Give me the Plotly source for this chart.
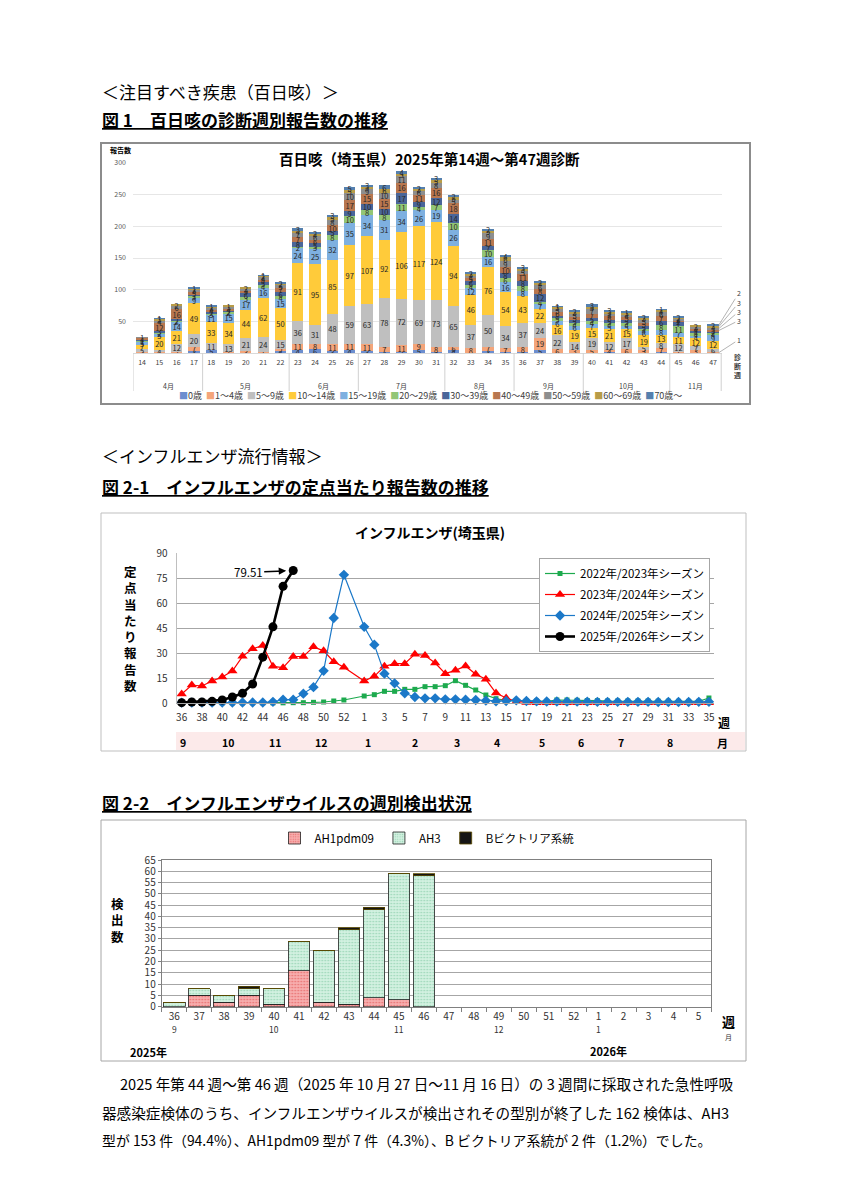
import plotly.graph_objects as go

# page is 848x1200; the browser body adds an 8px margin, so the figure is 840x1192
PAGE_OFF = 8
W, H = 840, 1192
FONT = "Noto Sans CJK JP"


def px(x):
    return (x - PAGE_OFF) / W


def py(y):
    return 1 - (y - PAGE_OFF) / H


# ---------------- Figure 1 data (百日咳) ----------------
weeks1 = [str(w) for w in range(14, 48)]
month_labels1 = ["4月", "5月", "6月", "7月", "8月", "9月", "10月", "11月"]
month_counts1 = [4, 5, 4, 5, 4, 4, 5, 3]
age_groups = ["0歳", "1～4歳", "5～9歳", "10～14歳", "15～19歳", "20～29歳",
              "30～39歳", "40～49歳", "50～59歳", "60～69歳", "70歳～"]
age_0 = [0, 0, 0, 3, 5, 0, 0, 0, 4, 4, 6, 3, 4, 3, 2, 2, 5, 2, 4, 0, 3, 1, 2, 5, 0, 1, 0, 1, 0, 1, 1, 1, 1, 0]
age_1_4 = [1, 1, 2, 7, 0, 1, 3, 1, 2, 11, 8, 11, 11, 11, 7, 11, 9, 8, 6, 8, 7, 7, 8, 19, 6, 3, 5, 4, 6, 3, 7, 1, 3, 1]
age_5_9 = [5, 4, 12, 20, 11, 13, 21, 24, 15, 36, 31, 48, 59, 63, 78, 72, 69, 73, 65, 37, 50, 34, 37, 24, 22, 14, 19, 12, 17, 5, 8, 12, 7, 6]
age_10_14 = [7, 20, 21, 49, 33, 34, 44, 62, 50, 91, 95, 85, 97, 107, 92, 106, 117, 124, 94, 46, 76, 54, 43, 22, 16, 19, 15, 21, 15, 19, 13, 11, 12, 12]
age_15_19 = [5, 5, 14, 9, 11, 15, 17, 16, 15, 24, 25, 32, 35, 34, 31, 34, 26, 19, 26, 12, 16, 16, 8, 7, 6, 6, 7, 5, 5, 6, 8, 7, 4, 9]
age_20_29 = [1, 2, 2, 3, 3, 2, 3, 4, 4, 2, 3, 8, 10, 8, 8, 11, 4, 7, 10, 4, 10, 6, 8, 4, 5, 4, 4, 4, 4, 4, 8, 11, 4, 4]
age_30_39 = [1, 3, 2, 1, 2, 2, 6, 5, 6, 8, 5, 5, 9, 10, 10, 17, 9, 12, 14, 6, 7, 8, 8, 12, 4, 5, 5, 5, 5, 5, 6, 7, 4, 2]
age_40_49 = [4, 12, 16, 5, 4, 4, 5, 4, 7, 7, 6, 10, 17, 15, 15, 16, 11, 16, 18, 5, 11, 10, 11, 8, 6, 5, 7, 6, 5, 5, 7, 2, 4, 3]
age_50_59 = [1, 4, 6, 3, 3, 3, 3, 4, 5, 7, 6, 8, 10, 9, 10, 11, 6, 8, 5, 4, 9, 9, 5, 6, 5, 5, 7, 4, 4, 5, 6, 2, 3, 3]
age_60_69 = [0, 3, 2, 2, 2, 1, 2, 2, 2, 4, 4, 5, 5, 3, 6, 3, 3, 5, 5, 3, 5, 6, 3, 4, 3, 3, 5, 3, 3, 3, 4, 2, 2, 3]
age_70 = [0, 1, 0, 1, 1, 0, 0, 1, 2, 3, 2, 3, 5, 3, 6, 4, 2, 3, 2, 2, 2, 4, 3, 2, 1, 2, 3, 3, 1, 2, 1, 2, 0, 2]
age_series = [age_0, age_1_4, age_5_9, age_10_14, age_15_19, age_20_29,
              age_30_39, age_40_49, age_50_59, age_60_69, age_70]
age_colors = ["#6C8ECF", "#F4A57A", "#BFBFBF", "#FFCB3A", "#7EB0E0", "#92C676",
              "#4A6699", "#B8774F", "#8E8E8E", "#B89C48", "#5580AE"]

# ---------------- Figure 2-1 data (定点当たり) ----------------
weeks21 = [str(w) for w in range(36, 54)] + [str(w) for w in range(1, 36)]
s2022 = [0.1] * 11 + [0.2, 0.2, 0.4, 0.6, 1.2, 1.8, None] + \
    [4.2, 5.0, 7.0, 7.0, 8.2, 8.2, 9.8, 9.8, 10.4, 13.4, 10.6, 7.8, 4.8, 2.6, 1.4, 1.4, 1.4, 1.2,
     1.0, 1.8, 1.8, 1.6, 1.5, 1.4, 1.2, 1.2, 1.2, 1.2, 1.2, 1.1, 1.1, 1.0, 1.0, 1.0, 3.0]
s2023 = [5.4, 10.8, 10.2, 13.2, 15.6, 19.2, 28.0, 32.5, 34.5, 22.0, 21.2, 27.9, 27.9, 33.7, 31.3, 24.8, 21.4, None] + \
    [13.2, 16.0, 22.0, 23.6, 23.6, 29.3, 28.5, 24.0, 17.6, 19.6, 22.2, 17.2, 14.2, 6.0, 3.0, 0.8,
     0.3, 0.2] + [0.1] * 17
s2024 = [0.2, 0.2, 0.2, 0.2, 0.3, 0.3, 0.3, 0.3, 0.3, 0.7, 2.0, 2.0, 5.6, 9.5, 19.3, 51.0, 76.9, None] + \
    [45.7, 35.0, 17.6, 11.8, 5.8, 3.6, 2.8, 2.8, 2.2, 2.2, 2.0, 1.8, 1.4, 1.0, 1.2, 1.6, 1.2, 1.0,
     0.9, 0.9, 0.8, 0.8, 0.8, 0.7, 0.7, 0.7, 0.7, 0.7, 0.7, 0.6, 0.6, 0.6, 0.6, 0.7, 0.7]
s2025 = [0.2, 0.6, 0.6, 1.0, 1.8, 3.6, 5.8, 11.4, 27.5, 45.7, 70.0, 79.51] + [None] * 41
season_names = ["2022年/2023年シーズン", "2023年/2024年シーズン",
                "2024年/2025年シーズン", "2025年/2026年シーズン"]
month_labels21 = ["9", "10", "11", "12", "1", "2", "3", "4", "5", "6", "7", "8"]
month_pos21 = [0.1, 4.6, 9.2, 13.7, 18.4, 23.0, 27.2, 31.1, 35.5, 39.4, 43.3, 48.2]

# ---------------- Figure 2-2 data (ウイルス検出) ----------------
weeks22 = [str(w) for w in range(36, 53)] + [str(w) for w in range(1, 6)]
ah1pdm09 = [0, 5, 2, 5, 1, 16, 2, 1, 4, 3, 0]
ah3 = [2, 3, 3, 3, 7, 13, 23, 33, 39, 56, 58]
bvic = [0, 0, 0, 1, 0, 0, 0, 1, 1, 0, 1]
month_labels22 = ["9", "10", "11", "12", "1"]
month_week22 = ["36", "40", "45", "49", "1"]

fig = go.Figure()

# ---- Figure 1 bars ----
for name, vals, col in zip(age_groups, age_series, age_colors):
    fig.add_trace(go.Bar(
        x=weeks1, y=vals, name=name, xaxis="x", yaxis="y",
        marker=dict(color=col, line=dict(width=0)),
        text=[str(v) if v else "" for v in vals], textposition="inside",
        textangle=0, insidetextanchor="middle", constraintext="none",
        textfont=dict(size=7.5, color="#262626", family=FONT),
        width=0.65, showlegend=False, hoverinfo="skip"))

# ---- Figure 2-1 lines ----
line_styles = [
    dict(color="#1DAA4E", width=1.2, sym="square", size=5),
    dict(color="#FF0000", width=1.2, sym="triangle-up", size=9),
    dict(color="#1B78C8", width=1.2, sym="diamond", size=8),
    dict(color="#000000", width=2.6, sym="circle", size=9),
]
for i, (name, vals, st) in enumerate(zip(season_names, [s2022, s2023, s2024, s2025], line_styles)):
    fig.add_trace(go.Scatter(
        x=weeks21, y=vals, name=name, xaxis="x2", yaxis="y2", mode="lines+markers",
        line=dict(color=st["color"], width=st["width"]),
        marker=dict(symbol=st["sym"], size=st["size"], color=st["color"]),
        connectgaps=True, cliponaxis=False, legend="legend2",
        legendgroup="g%d" % i, hoverinfo="skip"))

# ---- Figure 2-2 bars ----
fig.add_trace(go.Bar(
    x=weeks22[:len(ah1pdm09)], y=ah1pdm09, name="AH1pdm09", xaxis="x3", yaxis="y3",
    marker=dict(color="#F6A3A3", line=dict(color="#222222", width=0.8),
                pattern=dict(shape=".", fgcolor="#E87070", bgcolor="#F7AEAE", size=3, solidity=0.25)),
    width=0.87, legend="legend3", hoverinfo="skip"))
fig.add_trace(go.Bar(
    x=weeks22[:len(ah3)], y=ah3, name="AH3", xaxis="x3", yaxis="y3",
    marker=dict(color="#CDEFDD", line=dict(color="#222222", width=0.8),
                pattern=dict(shape=".", fgcolor="#9AD6B6", bgcolor="#D3F1E1", size=3, solidity=0.25)),
    width=0.87, legend="legend3", hoverinfo="skip"))
fig.add_trace(go.Bar(
    x=weeks22[:len(bvic)], y=bvic, name="Bビクトリア系統", xaxis="x3", yaxis="y3",
    marker=dict(color="#151515", line=dict(color="#5A4A00", width=0.8)),
    width=0.87, legend="legend3", hoverinfo="skip"))

ann = []
shp = []


def text(x, y, s, size, bold=False, xanchor="left", color="#000000", **kw):
    d = dict(x=px(x), y=py(y), xref="paper", yref="paper", text=("<b>%s</b>" % s) if bold else s,
             showarrow=False, xanchor=xanchor, yanchor="middle",
             font=dict(size=size, color=color, family=FONT))
    d.update(kw)
    ann.append(d)


# ---- page texts ----
text(100, 92, "＜注目すべき疾患（百日咳）＞", 17)
text(100, 120, "<u>図 1　百日咳の診断週別報告数の推移</u>", 17, bold=True)
text(100, 455, "＜インフルエンザ流行情報＞", 17)
text(100, 487, "<u>図 2-1　インフルエンザの定点当たり報告数の推移</u>", 17, bold=True)
text(100, 802, "<u>図 2-2　インフルエンザウイルスの週別検出状況</u>", 17, bold=True)
text(118, 1083, "2025 年第 44 週～第 46 週（2025 年 10 月 27 日～11 月 16 日）の 3 週間に採取された急性呼吸", 14.6)
text(100, 1112, "器感染症検体のうち、インフルエンザウイルスが検出されその型別が終了した 162 検体は、AH3", 14.6)
text(100, 1140, "型が 153 件（94.4%）、AH1pdm09 型が 7 件（4.3%）、B ビクトリア系統が 2 件（1.2%）でした。", 13.9)

# ---- Figure 1 decorations ----
shp.append(dict(type="rect", xref="paper", yref="paper", x0=px(101), x1=px(750), y0=py(143), y1=py(404),
                line=dict(color="#8C8C8C", width=2)))
text(429, 158, "百日咳（埼玉県）2025年第14週～第47週診断", 14.5, bold=True, xanchor="center")
text(108, 150, "報告数", 7, bold=True)
start = 0
for lab, cnt in zip(month_labels1, month_counts1):
    shp.append(dict(type="line", xref="x", yref="paper", x0=start - 0.5, x1=start - 0.5,
                    y0=py(353), y1=py(391), line=dict(color="#D0D0D0", width=1)))
    ann.append(dict(x=start + (cnt - 1) / 2, y=py(379), xref="x", yref="paper", text=lab,
                    showarrow=False, font=dict(size=7, color="#404040", family=FONT)))
    start += cnt
shp.append(dict(type="line", xref="x", yref="paper", x0=start - 0.5, x1=start - 0.5,
                y0=py(353), y1=py(391), line=dict(color="#D0D0D0", width=2)))
text(737, 366, "<br>".join("診断週"), 7, bold=True, xanchor="center", color="#404040")

# callouts for the last week's small segments
last = len(weeks1) - 1
cum = 0
mids = []
for vals in age_series:
    v = vals[last]
    mids.append((cum + v / 2, v))
    cum += v
callouts = [(1, 20, -13), (7, 20, -10), (8, 20, -17), (9, 20, -24), (10, 20, -32)]
for k, axo, ayo in callouts:
    ymid, v = mids[k]
    ann.append(dict(x=last + 0.33, y=ymid, xref="x", yref="y", text=str(v), showarrow=True,
                    arrowhead=0, arrowwidth=0.8, arrowcolor="#A0A0A0", ax=axo, ay=ayo,
                    font=dict(size=7, color="#404040", family=FONT)))

# Figure 1 legend drawn as a text row
leg_items = []
for name, col in zip(age_groups, age_colors):
    leg_items.append('<span style="color:%s">■</span>%s' % (col, name))
text(430, 395, "\u00a0\u00a0".join(leg_items), 9, xanchor="center", color="#404040")

# ---- Figure 2-1 decorations ----
shp.append(dict(type="rect", xref="paper", yref="paper", x0=px(101), x1=px(746), y0=py(513), y1=py(751),
                line=dict(color="#BFBFBF", width=1)))
shp.append(dict(type="rect", xref="paper", yref="paper", x0=px(176), x1=px(745), y0=py(732), y1=py(750),
                fillcolor="#FCEAEA", line=dict(width=0), layer="below"))
text(430, 532, "インフルエンザ(埼玉県)", 14, bold=True, xanchor="center")
text(130, 628, "<br>".join("定点当たり報告数"), 12.5, bold=True, xanchor="center")
for lab, pos in zip(month_labels21, month_pos21):
    ann.append(dict(x=pos, y=py(742), xref="x2", yref="paper", text="<b>%s</b>" % lab,
                    showarrow=False, font=dict(size=10.5, color="#000", family=FONT)))
text(724, 722, "週", 12, bold=True, xanchor="center")
text(722, 743, "月", 11, bold=True, xanchor="center")
ann.append(dict(x=11, y=s2025[11], xref="x2", yref="y2", text="%.2f" % s2025[11], showarrow=True,
                arrowhead=2, arrowsize=1, arrowwidth=1.5, arrowcolor="#000", ax=-45, ay=2, standoff=7,
                font=dict(size=11.5, color="#000", family=FONT)))

# ---- Figure 2-2 decorations ----
shp.append(dict(type="rect", xref="paper", yref="paper", x0=px(101), x1=px(746), y0=py(820), y1=py(1061),
                line=dict(color="#A6A6A6", width=1)))
text(117, 920, "<br>".join("検出数"), 12.5, bold=True, xanchor="center")
for lab, wk in zip(month_labels22, month_week22):
    ann.append(dict(x=weeks22.index(wk), y=py(1037), xref="x3", yref="paper", text=lab,
                    showarrow=False, font=dict(size=8.5, color="#333", family=FONT)))
text(148, 1052, "2025年", 11, bold=True, xanchor="center")
text(608, 1051, "2026年", 11, bold=True, xanchor="center")
text(728, 1021, "週", 13, bold=True, xanchor="center")
text(728, 1037, "月", 7, xanchor="center", color="#333")

fig.update_layout(
    width=W, height=H, margin=dict(l=0, r=0, t=0, b=0),
    template="none", paper_bgcolor="white", plot_bgcolor="white",
    font=dict(family=FONT, color="#000"),
    barmode="stack", hovermode=False,
    showlegend=True,
    xaxis=dict(domain=[px(133.4), px(721.7)], anchor="y", type="category",
               categoryorder="array", categoryarray=weeks1, range=[-0.5, len(weeks1) - 0.5],
               tickfont=dict(size=7, color="#404040"), showgrid=False, zeroline=False,
               showline=True, linecolor="#D9D9D9", ticks="outside", ticklen=3,
               tickcolor="rgba(0,0,0,0)"),
    yaxis=dict(domain=[py(353), py(163)], anchor="x", range=[0, 300],
               tickvals=[50, 100, 150, 200, 250, 300], gridcolor="#E6E6E6", showline=False,
               zeroline=False, tickfont=dict(size=7, color="#595959"), ticks="outside",
               ticklen=5, tickcolor="rgba(0,0,0,0)"),
    xaxis2=dict(domain=[px(176.6), px(714.0)], anchor="y2", type="category",
                categoryorder="array", categoryarray=weeks21, range=[-0.5, len(weeks21) - 0.5],
                tickmode="linear", tick0=0, dtick=2, tickfont=dict(size=10, color="#333"),
                showgrid=False, zeroline=False, showline=True, linecolor="#A6A6A6",
                ticks="outside", ticklen=5, tickcolor="rgba(0,0,0,0)"),
    yaxis2=dict(domain=[py(703), py(553)], anchor="x2", range=[0, 90], tickmode="linear",
                tick0=0, dtick=15, gridcolor="#A6A6A6", showline=True, linecolor="#BFBFBF",
                zeroline=False, tickfont=dict(size=10, color="#333"), ticks="outside",
                ticklen=6, tickcolor="rgba(0,0,0,0)"),
    xaxis3=dict(domain=[px(161.7), px(711)], anchor="y3", type="category",
                categoryorder="array", categoryarray=weeks22, range=[-0.5, len(weeks22) - 0.5],
                tickson="boundaries", ticks="outside", ticklen=4, tickcolor="#808080",
                tickfont=dict(size=10, color="#333"), showline=True, linecolor="#808080",
                mirror=True, showgrid=False, zeroline=False),
    yaxis3=dict(domain=[py(1006.7), py(860)], anchor="x3", range=[0, 65], tickmode="linear",
                tick0=0, dtick=5, gridcolor="#A6A6A6", showline=True, linecolor="#808080",
                mirror=True, zeroline=False, tickfont=dict(size=10, color="#333"),
                ticks="outside", ticklen=3, tickcolor="#808080"),
    legend2=dict(x=px(539), y=py(558), xanchor="left", yanchor="top", bgcolor="white",
                 bordercolor="#A6A6A6", borderwidth=1, font=dict(size=11.5, family=FONT),
                 tracegroupgap=2, itemwidth=30, traceorder="grouped"),
    legend3=dict(orientation="h", x=px(427), xanchor="center", y=py(838), yanchor="middle",
                 bgcolor="rgba(0,0,0,0)", font=dict(size=11.5, family=FONT), itemwidth=30,
                 traceorder="normal"),
    annotations=ann, shapes=shp,
)

fig.write_html("out.html")
